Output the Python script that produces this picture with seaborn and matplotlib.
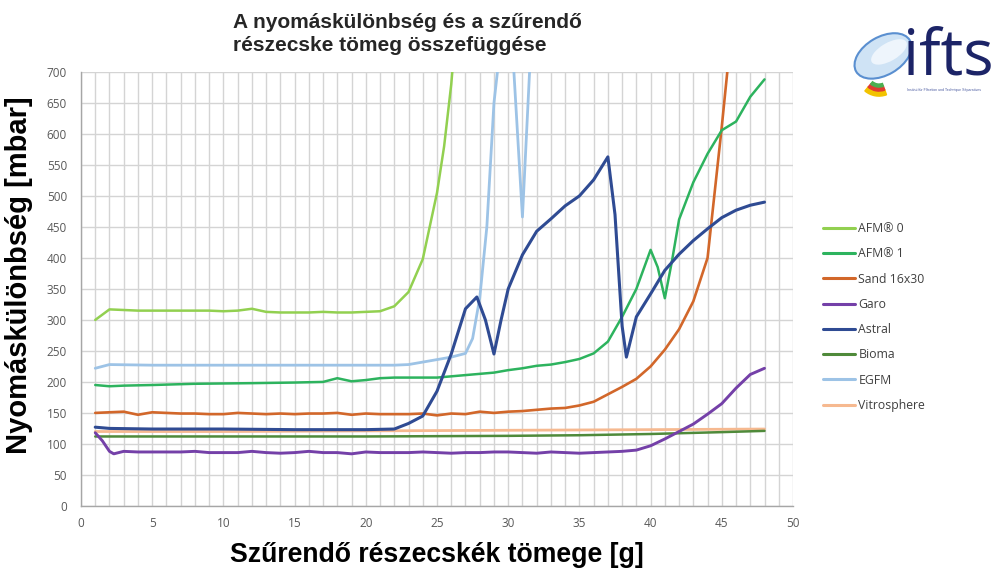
import matplotlib
matplotlib.use("Agg")
import matplotlib.pyplot as plt
from matplotlib.lines import Line2D
from matplotlib.patches import Ellipse, Wedge
import seaborn as sns
import pandas as pd

# series (x = mass in g, y = pressure drop in mbar)
afm0_x = [1, 2, 3, 4, 5, 6, 7, 8, 9, 10, 11, 12, 13, 14, 15, 16, 17, 18, 19, 20,
          21, 22, 23, 24, 25, 25.5, 26, 27]
afm0_y = [300, 317, 316, 315, 315, 315, 315, 315, 315, 314, 315, 318, 313, 312, 312, 312,
          313, 312, 312, 313, 314, 322, 345, 398, 505, 580, 680, 950]

afm1_x = [1, 2, 3, 5, 8, 12, 15, 17, 18, 19, 20, 21, 22, 25, 26, 27, 28, 29, 30, 31, 32,
          33, 34, 35, 36, 37, 38, 39, 40, 40.5, 41, 41.5, 42, 43, 44, 45, 46, 47, 48]
afm1_y = [195, 193, 194, 195, 197, 198, 199, 200, 206, 201, 203, 206, 207, 207, 209, 211,
          213, 215, 219, 222, 226, 228, 232, 237, 246, 265, 305, 350, 413, 385, 335, 395,
          462, 522, 568, 606, 620, 660, 688]

sand_x = list(range(1, 47))
sand_y = [150, 151, 152, 147, 151, 150, 149, 149, 148, 148, 150, 149, 148, 149, 148, 149,
          149, 150, 147, 149, 148, 148, 148, 149, 146, 149, 148, 152, 150, 152, 153, 155,
          157, 158, 162, 168, 180, 192, 205, 225, 252, 285, 330, 400, 612, 840]

garo_x = [1, 1.5, 2, 2.3, 3, 4, 5, 6, 7, 8, 9, 10, 11, 12, 13, 14, 15, 16, 17, 18, 19, 20,
          21, 22, 23, 24, 25, 26, 27, 28, 29, 30, 31, 32, 33, 34, 35, 36, 37, 38, 39, 40,
          41, 42, 43, 44, 45, 46, 47, 48]
garo_y = [118, 105, 88, 84, 88, 87, 87, 87, 87, 88, 86, 86, 86, 88, 86, 85, 86, 88, 86,
          86, 84, 87, 86, 86, 86, 87, 86, 85, 86, 86, 87, 87, 86, 85, 87, 86, 85, 86, 87,
          88, 90, 97, 108, 120, 132, 148, 165, 190, 212, 222]

astral_x = [1, 2, 5, 10, 15, 20, 22, 23, 24, 25, 26, 27, 27.8, 28.4, 29, 29.5, 30, 31, 32,
            33, 34, 35, 36, 37, 37.5, 38, 38.3, 39, 40, 41, 42, 43, 44, 45, 46, 47, 48]
astral_y = [127, 125, 124, 124, 123, 123, 124, 133, 145, 185, 245, 318, 337, 300, 245,
            300, 350, 405, 443, 463, 484, 500, 526, 563, 470, 290, 240, 305, 342, 380, 406,
            428, 447, 465, 477, 485, 490]

bioma_x = [1, 10, 20, 30, 35, 40, 45, 48]
bioma_y = [112, 112, 112, 113, 114, 116, 119, 121]

egfm_x = [1, 2, 5, 10, 15, 20, 22, 23, 24, 25, 26, 27, 27.5, 28, 28.5, 29, 30, 31, 32]
egfm_y = [222, 228, 227, 227, 227, 227, 227, 228, 232, 236, 240, 246, 270, 335, 450, 650,
          856, 466, 934]

vitro_x = [1, 10, 20, 30, 40, 48]
vitro_y = [120, 120, 121, 122, 123, 124]

names = ["AFM\u00ae 0", "AFM\u00ae 1", "Sand 16x30", "Garo", "Astral", "Bioma", "EGFM",
         "Vitrosphere"]
colors = ["#92D050", "#2DB35E", "#D2672A", "#7440A8", "#2F4B93", "#4F8A3A", "#9DC3E6",
          "#F6B990"]
widths = [1.8, 1.8, 1.9, 2.1, 2.2, 1.8, 2.0, 2.0]

series = [(afm0_x, afm0_y), (afm1_x, afm1_y), (sand_x, sand_y), (garo_x, garo_y),
          (astral_x, astral_y), (bioma_x, bioma_y), (egfm_x, egfm_y), (vitro_x, vitro_y)]

frames = []
for name, (xs, ys) in zip(names, series):
    frames.append(pd.DataFrame({"mass": xs, "dp": ys, "series": name}))
df = pd.concat(frames, ignore_index=True)

sns.set_theme(style="whitegrid")
plt.rcParams["font.family"] = ["Liberation Sans", "DejaVu Sans"]

fig = plt.figure(figsize=(10, 5.71), dpi=100)
ax = fig.add_axes([0.081, 0.114, 0.712, 0.760])

# draw in legend-reverse order so the flat lines stack like the reference
draw_order = ["Vitrosphere", "Bioma", "Garo", "Sand 16x30", "AFM\u00ae 1", "AFM\u00ae 0",
              "EGFM", "Astral"]
for name in draw_order:
    i = names.index(name)
    sub = df[df["series"] == name]
    sns.lineplot(data=sub, x="mass", y="dp", ax=ax, color=colors[i], lw=widths[i],
                 estimator=None, sort=False, legend=False)

ax.set_xlim(0, 50)
ax.set_ylim(0, 700)
ax.set_xticks(range(0, 51, 5))
ax.set_xticks(range(0, 51, 1), minor=True)
ax.set_yticks(range(0, 701, 50))
ax.grid(True, which="both", color="#D4D4D4", lw=1.0)
ax.set_facecolor("white")
for side in ["top", "right"]:
    ax.spines[side].set_visible(False)
for side in ["left", "bottom"]:
    ax.spines[side].set_color("#A6A6A6")
    ax.spines[side].set_linewidth(1.0)
ax.tick_params(axis="both", which="both", length=0, labelsize=8.5, labelcolor="#595959")
ax.tick_params(axis="y", pad=10)
ax.tick_params(axis="x", pad=8)
for lab in ax.get_xticklabels() + ax.get_yticklabels():
    lab.set_family(["Open Sans", "DejaVu Sans"])

ax.set_xlabel("Sz\u0171rend\u0151 r\u00e9szecsk\u00e9k t\u00f6mege [g]", fontsize=19.2,
              fontweight="bold", color="black")
ax.set_ylabel("Nyom\u00e1sk\u00fcl\u00f6nbs\u00e9g [mbar]", fontsize=21,
              fontweight="bold", color="black")
ax.xaxis.set_label_coords(0.5, -0.083)
ax.yaxis.set_label_coords(-0.067, 0.532)

fig.text(0.233, 0.978, "A nyom\u00e1sk\u00fcl\u00f6nbs\u00e9g \u00e9s a sz\u0171rend\u0151\n"
         "r\u00e9szecske t\u00f6meg \u00f6sszef\u00fcgg\u00e9se", ha="left", va="top",
         fontsize=15, fontweight="bold", linespacing=1.3)

handles = [Line2D([], [], color=c, lw=2.2) for c in colors]
leg = fig.legend(handles, names, loc="upper left", bbox_to_anchor=(0.812, 0.630),
                 frameon=False, fontsize=8.8, handlelength=2.6, handletextpad=0.3,
                 labelspacing=1.0)
for t in leg.get_texts():
    t.set_color("#404040")
    t.set_family(["Open Sans", "DejaVu Sans"])

# ifts logo approximation
lax = fig.add_axes([0.845, 0.80, 0.155, 0.19])
lax.set_xlim(0, 155)
lax.set_ylim(0, 108)
lax.axis("off")
lax.add_patch(Ellipse((38, 58), 62, 38, angle=30, facecolor="#CFE3F5",
                      edgecolor="#5A8FD0", lw=1.5))
lax.add_patch(Ellipse((44, 62), 40, 18, angle=30, facecolor="#EEF5FC", edgecolor="none"))
lax.add_patch(Wedge((34, 40), 22, 230, 290, width=5, color="#F2C300"))
lax.add_patch(Wedge((34, 40), 17, 230, 290, width=4, color="#E03C31"))
lax.add_patch(Wedge((34, 40), 13, 230, 290, width=3, color="#4CAF50"))
lax.text(58, 56, "ifts", fontsize=46, color="#1C2467", ha="left", va="center",
         family=["Open Sans", "DejaVu Sans"])
lax.text(62, 24, "Institut f\u00fcr Filtration und Technique S\u00e9paratives",
         fontsize=2.5, color="#4A5AA0", ha="left", va="center")

fig.savefig("out.png", dpi=100, facecolor="white")
